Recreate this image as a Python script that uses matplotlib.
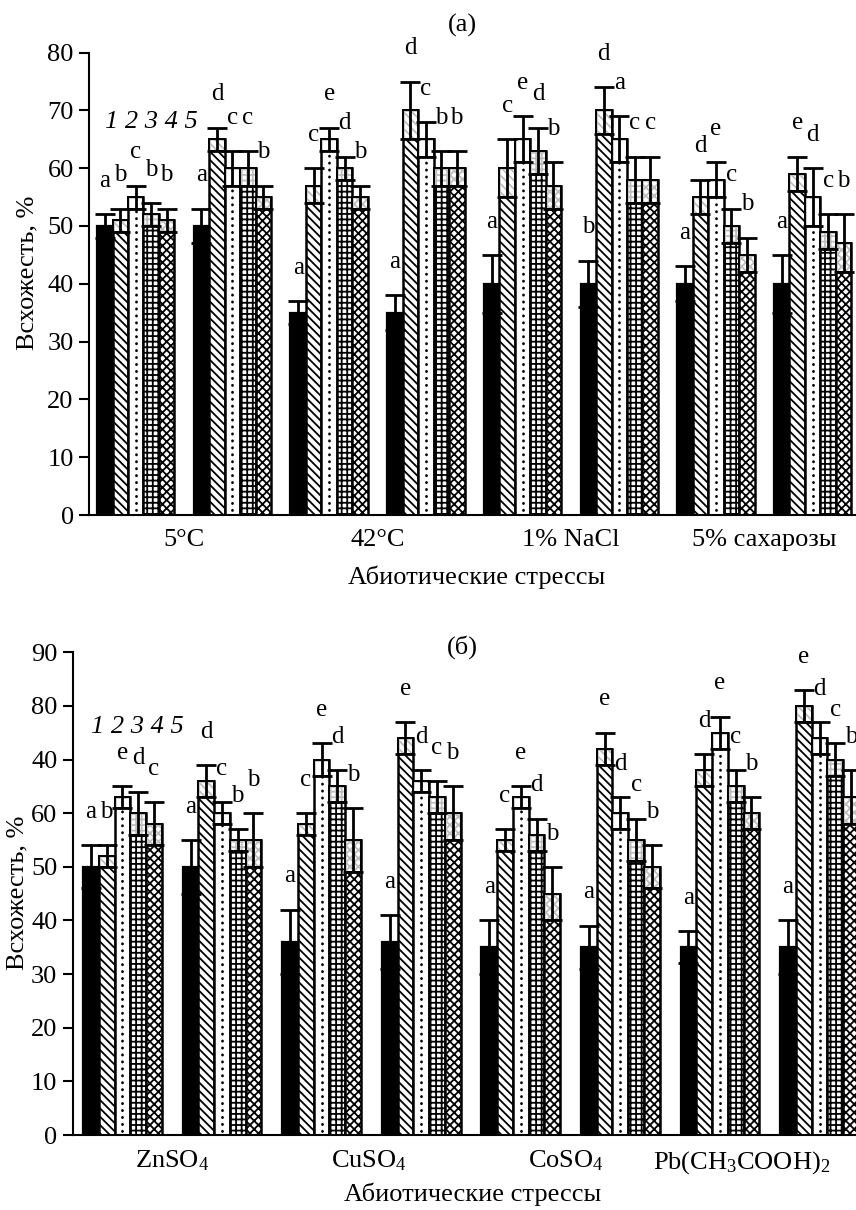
import numpy as np
import matplotlib
matplotlib.use('Agg')
import matplotlib.pyplot as plt

plt.rcParams['font.family'] = ['Liberation Serif', 'DejaVu Serif']
plt.rcParams['mathtext.fontset'] = 'custom'
plt.rcParams['mathtext.rm'] = 'Liberation Serif'
plt.rcParams['mathtext.it'] = 'Liberation Serif:italic'
plt.rcParams['hatch.linewidth'] = 1.3

# (а) - абиотические стрессы, 8 групп по 5 вариантов
stress_a = ['5°C', '42°C', '1% NaCl', '5% сахарозы']
vals_a = [
    [50, 51, 55, 52, 51],
    [50, 65, 60, 60, 55],
    [35, 57, 65, 60, 55],
    [35, 70, 65, 60, 60],
    [40, 60, 65, 63, 57],
    [40, 70, 65, 58, 58],
    [40, 55, 58, 50, 45],
    [40, 59, 55, 49, 47],
]
err_a = [
    [2, 2, 2, 2, 2],
    [3, 2, 3, 3, 2],
    [2, 3, 2, 2, 2],
    [3, 5, 3, 3, 3],
    [5, 5, 4, 4, 4],
    [4, 4, 4, 4, 4],
    [3, 3, 3, 3, 3],
    [5, 3, 5, 3, 5],
]
letters_a = ['abcbb', 'adccb', 'acedb', 'adcbb', 'acedb', 'bdacc', 'adecb', 'aedcb']
yticks_a = ['0', '10', '20', '30', '40', '50', '60', '70', '80']

# (б) - тяжелые металлы
stress_b = ['ZnSO$_4$', 'CuSO$_4$', 'CoSO$_4$', 'Pb(CH$_3$COOH)$_2$']
vals_b = [
    [50, 52, 63, 60, 58],
    [50, 66, 60, 55, 55],
    [36, 58, 70, 65, 55],
    [36, 74, 66, 63, 60],
    [35, 55, 63, 56, 45],
    [35, 72, 60, 55, 50],
    [35, 68, 75, 65, 60],
    [35, 80, 74, 70, 63],
]
err_b = [
    [4, 2, 2, 4, 4],
    [5, 3, 2, 2, 5],
    [6, 2, 3, 3, 6],
    [5, 3, 2, 3, 5],
    [5, 2, 2, 3, 5],
    [4, 3, 3, 4, 4],
    [3, 3, 3, 3, 3],
    [5, 3, 3, 3, 5],
]
letters_b = ['abedc', 'adcbb', 'acedb', 'aedcb', 'acedb', 'aedcb', 'adecb', 'aedcb']
yticks_b = ['0', '10', '20', '30', '40', '50', '60', '40', '80', '90']

W, H = 856, 1210
fig = plt.figure(figsize=(W / 100, H / 100), dpi=100)


def panel(rect, vals, errs, letters, labels, label_pos, ytl, ymax, w, xlim):
    ax = fig.add_axes(rect)
    vals = np.array(vals, float)
    errs = np.array(errs, float)
    groups = np.arange(len(vals))
    for i in range(5):
        xs = groups + (i - 2) * w
        v = vals[:, i]
        e = errs[:, i]
        if i == 0:
            ax.bar(xs, v, width=w, color='k', edgecolor='k', lw=1.6, zorder=2)
        else:
            hatch = {1: '\\\\\\\\', 2: None, 3: '+++', 4: 'xxxx'}[i]
            ax.bar(xs, v, width=w, color='w', edgecolor='k', hatch=hatch, lw=1.8, zorder=2)
            if i == 2:
                dots = ax.vlines(xs, 0.8, v - 0.5, colors='k', lw=2.0,
                                 linestyles=(0, (0.1, 2.4)), zorder=2.5)
                dots.set_capstyle('round')
            # нижняя половина ошибки - светлый прямоугольник
            ax.bar(xs, e, bottom=v - e, width=w, color=(1, 1, 1, 0.75),
                   edgecolor='k', lw=1.4, zorder=3)
        ax.errorbar(xs, v, yerr=e, fmt='none', ecolor='k', elinewidth=2,
                    capsize=7, capthick=2, zorder=4)
        for x, top, let in zip(xs, v + e, [l[i] for l in letters]):
            ax.annotate(let, (x, top), xytext=(0, 24), textcoords='offset points',
                        ha='center', va='center', fontsize=18, zorder=5)
    # номера вариантов над первой группой
    ax.text(-2 * w, (vals[0] + errs[0]).max() + 11, '1 2 3 4 5', style='italic',
            fontsize=19, ha='left', va='center')
    ax.set_xlim(*xlim)
    ax.set_ylim(0, ymax)
    ax.set_yticks(np.arange(0, ymax + 1, 10))
    ax.set_yticklabels(ytl)
    ax.set_xticks(label_pos)
    ax.set_xticklabels(labels)
    for s in ['top', 'right']:
        ax.spines[s].set_visible(False)
    for s in ['left', 'bottom']:
        ax.spines[s].set_linewidth(1.5)
    ax.tick_params(axis='y', direction='out', length=7, width=1.5, labelsize=19, pad=4)
    ax.tick_params(axis='x', length=0, labelsize=19, pad=10)
    ax.set_ylabel('Всхожесть, %', fontsize=19)
    ax.set_xlabel('Абиотические стрессы', fontsize=19)
    return ax


ax_a = panel([89 / W, 1 - 515 / H, (W - 89) / W, (515 - 52.6) / H],
             vals_a, err_a, letters_a, stress_a, [0.5, 2.5, 4.5, 6.5],
             yticks_a, 80, 0.16, (-0.483, 7.448))
ax_a.yaxis.set_label_coords(-0.0665, 0.523)
ax_a.xaxis.set_label_coords(0.505, -0.11)

ax_b = panel([72.7 / W, 1 - 1135 / H, (W - 72.7) / W, (1135 - 652.3) / H],
             vals_b, err_b, letters_b, stress_b, [0.5, 2.47, 4.45, 6.22],
             yticks_b, 90, 0.158, (-0.499, 7.366))
ax_b.yaxis.set_label_coords(-0.057, 0.501)
ax_b.xaxis.set_label_coords(0.511, -0.098)

fig.text(462 / W, 1 - 25 / H, '(а)', ha='center', va='center', fontsize=19)
fig.text(462 / W, 1 - 647 / H, '(б)', ha='center', va='center', fontsize=19)

fig.savefig('out.png', dpi=100)
